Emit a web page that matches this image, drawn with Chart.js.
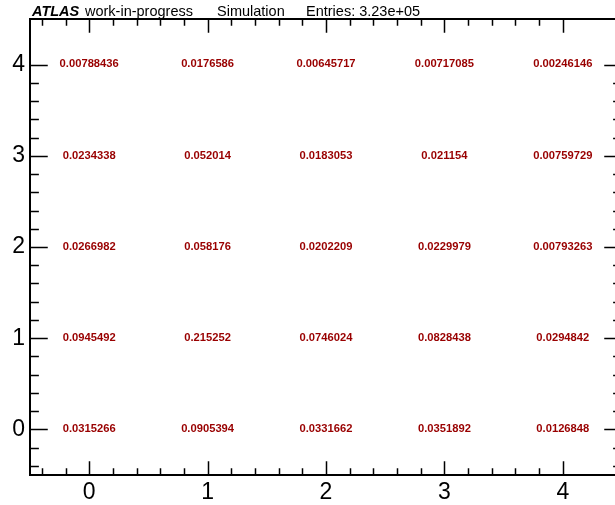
<!DOCTYPE html>
<html>
<head>
<meta charset="utf-8">
<script src="https://cdn.jsdelivr.net/npm/chart.js@4/dist/chart.umd.min.js"></script>
<style>
  html, body { margin: 0; padding: 0; background: #fff; overflow: hidden; }
  #wrap { width: 640px; height: 505px; }
</style>
</head>
<body>
<div id="wrap"><canvas id="graphCanvas" width="640" height="505"></canvas></div>
<script>
// bin centres and tick labels
var xBins = [0, 1, 2, 3, 4];
var yBins = [0, 1, 2, 3, 4];
var xTickLabels = [0, 1, 2, 3, 4];
var yTickLabels = [0, 1, 2, 3, 4];

// bin contents, one array per y row
var rowY0 = [0.0315266, 0.0905394, 0.0331662, 0.0351892, 0.0126848];
var rowY1 = [0.0945492, 0.215252, 0.0746024, 0.0828438, 0.0294842];
var rowY2 = [0.0266982, 0.058176, 0.0202209, 0.0229979, 0.00793263];
var rowY3 = [0.0234338, 0.052014, 0.0183053, 0.021154, 0.00759729];
var rowY4 = [0.00788436, 0.0176586, 0.00645717, 0.00717085, 0.00246146];
var rows = [rowY0, rowY1, rowY2, rowY3, rowY4];

var entries = "3.23e+05";

var FONT = "'Liberation Sans', Arial, Helvetica, sans-serif";

function fmtG(v) {
  var s = v.toPrecision(6);
  if (s.indexOf(".") >= 0) s = s.replace(/0+$/, "").replace(/\.$/, "");
  return s;
}

var cells = [];
for (var j = 0; j < yBins.length; j++) {
  for (var i = 0; i < xBins.length; i++) {
    cells.push({ x: xBins[i], y: yBins[j], v: rows[j][i] });
  }
}

// ROOT-like frame with inward ticks on all four sides
var framePlugin = {
  id: "frame",
  afterDraw: function (chart) {
    var ctx = chart.ctx;
    var a = chart.chartArea;
    var xs = chart.scales.x, ys = chart.scales.y;
    var h = a.bottom - a.top, w = a.right - a.left;
    var xMaj = 0.03 * h, xMin = xMaj / 2;
    var yMaj = 0.03 * w, yMin = yMaj / 2;
    ctx.save();
    ctx.strokeStyle = "#000";
    ctx.lineWidth = 1.5;
    ctx.beginPath();
    var v, p, len, k;
    for (k = -2; k <= 22; k++) {
      v = -0.4 + k * 0.2;
      v = Math.round(v * 10) / 10;
      if (v <= xs.min || v >= xs.max) continue;
      len = Math.abs(v - Math.round(v)) < 1e-6 ? xMaj : xMin;
      p = Math.round(xs.getPixelForValue(v)) + 0.5;
      ctx.moveTo(p, a.bottom); ctx.lineTo(p, a.bottom - len);
      ctx.moveTo(p, a.top); ctx.lineTo(p, a.top + len);
    }
    for (k = -2; k <= 22; k++) {
      v = -0.4 + k * 0.2;
      v = Math.round(v * 10) / 10;
      if (v <= ys.min || v >= ys.max) continue;
      len = Math.abs(v - Math.round(v)) < 1e-6 ? yMaj : yMin;
      p = Math.round(ys.getPixelForValue(v)) + 0.5;
      ctx.moveTo(a.left, p); ctx.lineTo(a.left + len, p);
      ctx.moveTo(a.right, p); ctx.lineTo(a.right - len, p);
    }
    ctx.stroke();
    ctx.lineWidth = 2;
    ctx.strokeRect(a.left, a.top, w, h);

    // header line
    ctx.fillStyle = "#000";
    ctx.textBaseline = "alphabetic";
    ctx.textAlign = "left";
    ctx.font = "italic bold 14.5px " + FONT;
    ctx.fillText("ATLAS", 32, 16);
    ctx.font = "14.5px " + FONT;
    ctx.fillText("work-in-progress", 85, 16);
    ctx.fillText("Simulation", 217, 16);
    ctx.fillText("Entries: " + entries, 306, 16);
    ctx.restore();
  }
};

// bin content written at each bin centre
var textPlugin = {
  id: "binText",
  afterDatasetsDraw: function (chart) {
    var ctx = chart.ctx;
    var meta = chart.getDatasetMeta(0);
    var data = chart.data.datasets[0].data;
    ctx.save();
    ctx.fillStyle = "#990000";
    ctx.font = "bold 10px " + FONT;
    ctx.textAlign = "center";
    ctx.textBaseline = "middle";
    meta.data.forEach(function (pt, n) {
      ctx.save();
      ctx.translate(pt.x, pt.y);
      ctx.scale(1.12, 1);
      ctx.fillText(fmtG(data[n].v), 0, 0);
      ctx.restore();
    });
    ctx.restore();
  }
};

new Chart(document.getElementById("graphCanvas"), {
  type: "scatter",
  data: {
    datasets: [{
      data: cells,
      pointRadius: 0,
      pointHoverRadius: 0,
      showLine: false
    }]
  },
  options: {
    responsive: false,
    devicePixelRatio: 1,
    animation: false,
    events: [],
    layout: { padding: { top: 19, right: 18, bottom: 0, left: 0 } },
    plugins: {
      legend: { display: false },
      tooltip: { enabled: false },
      title: { display: false }
    },
    scales: {
      x: {
        type: "linear",
        min: -0.5,
        max: 4.5,
        afterBuildTicks: function (s) { s.ticks = xTickLabels.map(function (t) { return { value: t }; }); },
        afterFit: function (s) { s.height = 30; },
        grid: { display: false, drawTicks: false },
        border: { display: false },
        ticks: { color: "#000", padding: 4, maxRotation: 0, font: { family: FONT, size: 23 } }
      },
      y: {
        type: "linear",
        min: -0.5,
        max: 4.5,
        afterBuildTicks: function (s) { s.ticks = yTickLabels.map(function (t) { return { value: t }; }); },
        afterFit: function (s) { s.width = 30; },
        grid: { display: false, drawTicks: false },
        border: { display: false },
        ticks: { color: "#000", padding: 5, font: { family: FONT, size: 23 } }
      }
    }
  },
  plugins: [framePlugin, textPlugin]
});
</script>
</body>
</html>
